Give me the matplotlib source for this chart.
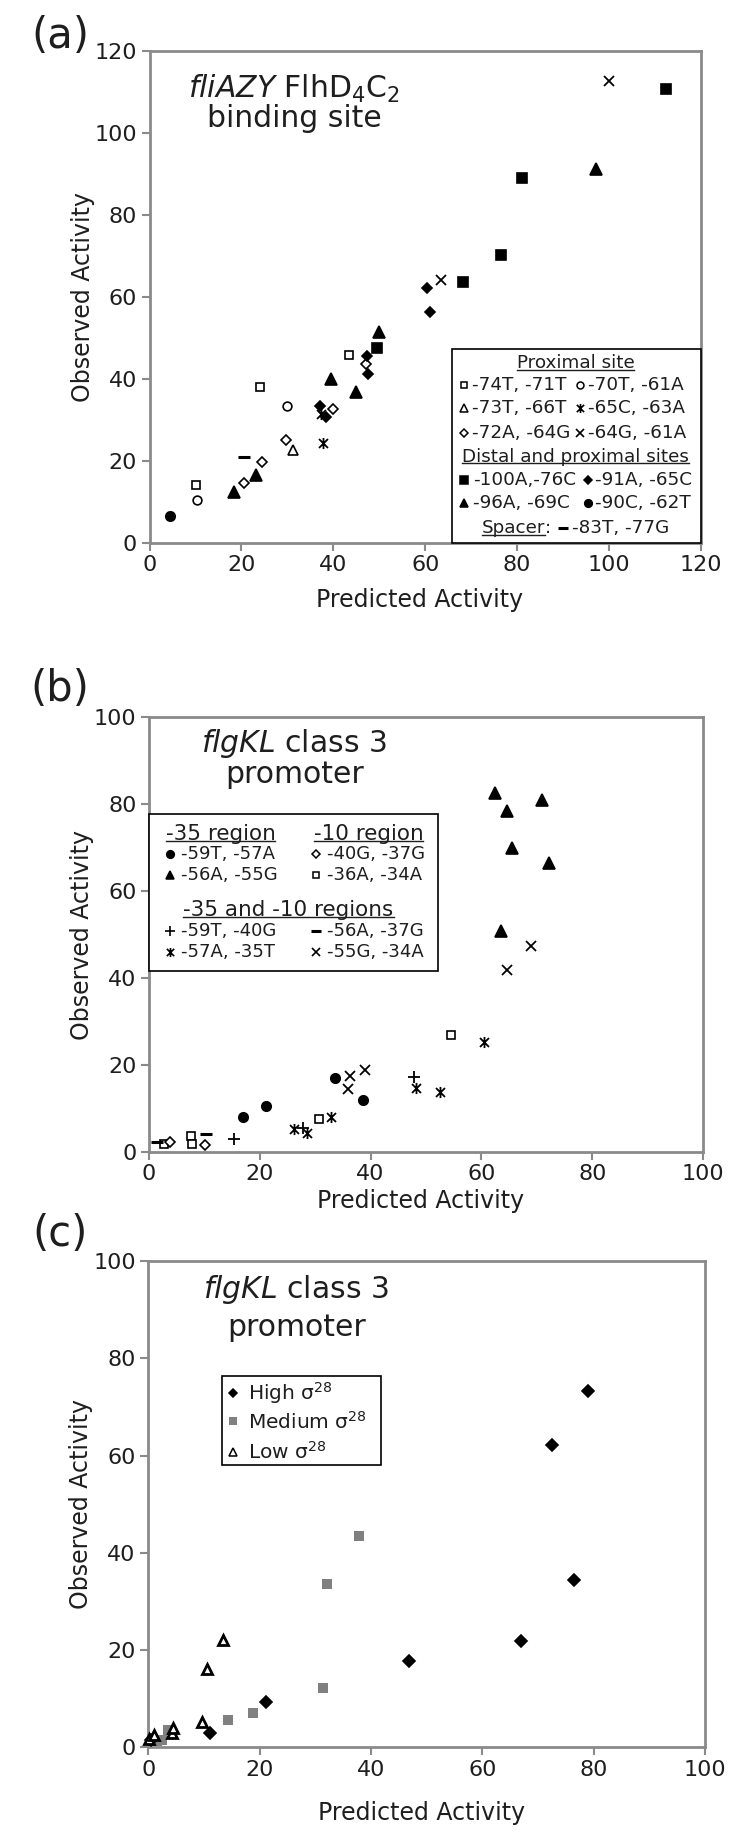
import numpy as np
import matplotlib
matplotlib.use('Agg')
import matplotlib.pyplot as plt
from matplotlib.path import Path
from matplotlib.lines import Line2D
from matplotlib.patches import Rectangle

plt.rcParams['font.family'] = ['DejaVu Sans']
plt.rcParams['mathtext.fontset'] = 'dejavusans'

TXT = '#1e1e1e'
SPINE = '#8a8a8a'
GRAY = '#808080'

# ---------------- data: panel (a) ----------------
a_sq_open_x = [10.2, 24.1, 43.5]
a_sq_open_y = [14.2, 37.9, 45.8]
a_circ_open_x = [10.3, 29.9]
a_circ_open_y = [10.5, 33.3]
a_tri_open_x = [31.2]
a_tri_open_y = [22.6]
a_star_x = [37.8, 37.4]
a_star_y = [24.3, 31.5]
a_dia_open_x = [20.5, 24.4, 29.8, 40.0, 47.0]
a_dia_open_y = [14.6, 19.7, 25.0, 32.6, 43.5]
a_x_x = [63.4, 100.0]
a_x_y = [64.2, 112.7]
a_sq_fill_x = [49.4, 68.3, 76.4, 81.1, 112.4]
a_sq_fill_y = [47.5, 63.6, 70.1, 88.9, 110.8]
a_dia_fill_x = [37.1, 38.3, 47.3, 47.6, 60.4, 61.0]
a_dia_fill_y = [33.3, 30.6, 45.5, 41.1, 62.1, 56.4]
a_tri_fill_x = [18.3, 23.2, 39.6, 45.0, 50.0, 97.1]
a_tri_fill_y = [12.4, 16.6, 40.0, 36.7, 51.5, 91.3]
a_circ_fill_x = [4.5]
a_circ_fill_y = [6.6]
a_dash_x = [20.5]
a_dash_y = [20.8]

# ---------------- data: panel (b) ----------------
b_circ_fill_x = [16.9, 21.2, 33.5, 38.7]
b_circ_fill_y = [8.0, 10.5, 16.9, 12.0]
b_tri_fill_x = [62.5, 64.6, 71.0, 65.6, 72.2, 63.5]
b_tri_fill_y = [82.5, 78.3, 80.9, 69.8, 66.5, 50.8]
b_dia_open_x = [3.8, 10.1]
b_dia_open_y = [2.2, 1.7]
b_sq_open_x = [2.7, 7.6, 7.7, 30.6, 54.5]
b_sq_open_y = [1.8, 3.7, 1.9, 7.7, 26.8]
b_plus_x = [15.4, 27.8, 47.9]
b_plus_y = [2.9, 5.6, 17.2]
b_dash_x = [1.4, 10.3]
b_dash_y = [2.3, 4.2]
b_star_x = [26.2, 28.5, 32.8, 48.2, 52.5, 60.5]
b_star_y = [5.2, 4.3, 8.0, 14.7, 13.9, 25.3]
b_x_x = [35.9, 36.3, 38.9, 64.6, 68.9]
b_x_y = [14.4, 17.5, 18.8, 41.9, 47.3]

# ---------------- data: panel (c) ----------------
c_high_x = [0.5, 11.0, 21.1, 46.8, 67.0, 72.5, 76.5, 78.9]
c_high_y = [1.5, 2.9, 9.3, 17.7, 21.8, 62.2, 34.5, 73.3]
c_med_x = [1.5, 2.4, 3.6, 14.3, 18.8, 31.4, 32.1, 37.9]
c_med_y = [1.3, 1.6, 3.6, 5.6, 7.0, 12.2, 33.5, 43.4]
c_low_x = [0.2, 1.0, 4.2, 4.5, 9.6, 10.6, 13.5]
c_low_y = [1.8, 2.6, 3.0, 4.0, 5.2, 16.0, 22.1]

STAR = Path([(-0.5, -0.5), (0.5, 0.5), (-0.5, 0.5), (0.5, -0.5), (0, -0.62), (0, 0.62)],
            [Path.MOVETO, Path.LINETO] * 3)

W, H = 750, 1846
fig = plt.figure(figsize=(W / 100, H / 100), dpi=100)


def add_axes(l, r, t, b):
    return fig.add_axes([l / W, 1 - b / H, (r - l) / W, (b - t) / H])


axA = add_axes(149.5, 701, 51, 542.7)
axB = add_axes(149, 703, 717, 1152)
axC = add_axes(148.3, 705, 1261, 1747.3)


def style(ax, lim, xlab_y, ylab_x=-0.121):
    ax.set_xlim(0, lim)
    ax.set_ylim(0, lim)
    ticks = np.arange(0, lim + 1, 20)
    ax.set_xticks(ticks)
    ax.set_yticks(ticks)
    for s in ax.spines.values():
        s.set_color(SPINE)
        s.set_linewidth(2.0)
    ax.tick_params(direction='out', length=6, width=1.5, color=SPINE,
                   labelsize=16, labelcolor=TXT, pad=3)
    ax.set_xlabel('Predicted Activity', fontsize=17, color=TXT)
    ax.set_ylabel('Observed Activity', fontsize=17, color=TXT)
    ax.xaxis.label.set_va('center')
    ax.yaxis.label.set_va('center')
    ax.xaxis.set_label_coords(0.49, xlab_y)
    ax.yaxis.set_label_coords(ylab_x, 0.5)


style(axA, 120, -0.1165)
style(axB, 100, -0.113)
style(axC, 100, -0.135)


def pts(ax, x, y, marker, ms, filled=True, mew=1.2, color='black', z=3):
    ax.plot(x, y, ls='none', marker=marker, ms=ms,
            mfc=color if filled else 'white', mec=color, mew=mew,
            clip_on=False, zorder=z)


def lmark(ax, x, y, marker, ms, filled=True, mew=1.1, color='black'):
    return ax.plot([x], [y], ls='none', marker=marker, ms=ms, transform=ax.transAxes,
                   mfc=color if filled else 'white', mec=color, mew=mew,
                   clip_on=False, zorder=6)[0]


UL = []


def ltext(ax, x, y, s, fs, ha='left', underline=False):
    t = ax.text(x, y, s, transform=ax.transAxes, fontsize=fs, ha=ha,
                va='center', color=TXT, zorder=7)
    if underline:
        UL.append((t, fs))
    return t


def box(ax, x0, y0, x1, y1):
    ax.add_patch(Rectangle((x0, y0), x1 - x0, y1 - y0, transform=ax.transAxes,
                           fc='white', ec='black', lw=1.2, zorder=5, clip_on=False))


# ---------------- panel (a) ----------------
pts(axA, a_sq_open_x, a_sq_open_y, 's', 6.3, False)
pts(axA, a_circ_open_x, a_circ_open_y, 'o', 6.3, False)
pts(axA, a_tri_open_x, a_tri_open_y, '^', 7.0, False)
pts(axA, a_dia_open_x, a_dia_open_y, 'D', 5.0, False)
pts(axA, a_star_x, a_star_y, STAR, 8, mew=1.3)
pts(axA, a_x_x, a_x_y, 'x', 7.5, mew=1.3)
pts(axA, a_sq_fill_x, a_sq_fill_y, 's', 7.0)
pts(axA, a_dia_fill_x, a_dia_fill_y, 'D', 5.3)
pts(axA, a_tri_fill_x, a_tri_fill_y, '^', 8.0)
pts(axA, a_circ_fill_x, a_circ_fill_y, 'o', 6.8)
pts(axA, a_dash_x, a_dash_y, '_', 8, mew=2.2)

axA.text(0.2625, 0.922, r'$\mathit{fliAZY}$ FlhD$_4$C$_2$', transform=axA.transAxes,
         fontsize=21.5, ha='center', va='center', color=TXT)
axA.text(0.2625, 0.862, 'binding site', transform=axA.transAxes,
         fontsize=21.5, ha='center', va='center', color=TXT)

box(axA, 0.548, 0.0, 1.0, 0.393)
fsA = 13.2
hx = 0.7724
ltext(axA, hx, 0.365, 'Proximal site', fsA, ha='center', underline=True)
rows = [0.3207, 0.2733, 0.2225]
c1m, c1t, c2m, c2t = 0.5703, 0.5842, 0.7806, 0.7957
lmark(axA, c1m, rows[0], 's', 5.0, False)
ltext(axA, c1t, rows[0], '-74T, -71T', fsA)
lmark(axA, c2m, rows[0], 'o', 5.0, False)
ltext(axA, c2t, rows[0], '-70T, -61A', fsA)
lmark(axA, c1m, rows[1], '^', 5.5, False)
ltext(axA, c1t, rows[1], '-73T, -66T', fsA)
lmark(axA, c2m, rows[1], STAR, 6.5, mew=1.2)
ltext(axA, c2t, rows[1], '-65C, -63A', fsA)
lmark(axA, c1m, rows[2], 'D', 4.0, False)
ltext(axA, c1t, rows[2], '-72A, -64G', fsA)
lmark(axA, c2m, rows[2], 'x', 6.0, mew=1.2)
ltext(axA, c2t, rows[2], '-64G, -61A', fsA)
ltext(axA, hx, 0.1749, 'Distal and proximal sites', fsA, ha='center', underline=True)
rows2 = [0.1276, 0.0801]
lmark(axA, c1m, rows2[0], 's', 5.5)
ltext(axA, 0.587, rows2[0], '-100A,-76C', fsA)
lmark(axA, 0.7957, rows2[0], 'D', 4.2)
ltext(axA, 0.8078, rows2[0], '-91A, -65C', fsA)
lmark(axA, c1m, rows2[1], '^', 6.0)
ltext(axA, 0.587, rows2[1], '-96A, -69C', fsA)
lmark(axA, 0.7957, rows2[1], 'o', 5.5)
ltext(axA, 0.8078, rows2[1], '-90C, -62T', fsA)
ySp = 0.0293
sp_t = ltext(axA, 0.6, ySp, 'Spacer', fsA, underline=True)
sp_c = ltext(axA, 0.7, ySp, ':', fsA)
sp_m = lmark(axA, 0.75, ySp, '_', 7, mew=2.2)
sp_v = ltext(axA, 0.8, ySp, '-83T, -77G', fsA)

# ---------------- panel (b) ----------------
pts(axB, b_sq_open_x, b_sq_open_y, 's', 6.3, False)
pts(axB, b_dia_open_x, b_dia_open_y, 'D', 5.0, False)
pts(axB, b_dash_x, b_dash_y, '_', 8, mew=2.2)
pts(axB, b_circ_fill_x, b_circ_fill_y, 'o', 6.8)
pts(axB, b_tri_fill_x, b_tri_fill_y, '^', 8.0)
pts(axB, b_plus_x, b_plus_y, '+', 8, mew=1.3)
pts(axB, b_star_x, b_star_y, STAR, 8, mew=1.3)
pts(axB, b_x_x, b_x_y, 'x', 7.5, mew=1.3)

axB.text(0.261, 0.940, r'$\mathit{flgKL}$ class 3', transform=axB.transAxes,
         fontsize=21.5, ha='center', va='center', color=TXT)
axB.text(0.263, 0.867, 'promoter', transform=axB.transAxes,
         fontsize=21.5, ha='center', va='center', color=TXT)

box(axB, 0.0, 0.417, 0.522, 0.778)
fsBh, fsB = 15.5, 13.0
ltext(axB, 0.129, 0.731, '-35 region', fsBh, ha='center', underline=True)
ltext(axB, 0.396, 0.731, '-10 region', fsBh, ha='center', underline=True)
b1m, b1t, b2m, b2t = 0.038, 0.058, 0.302, 0.321
lmark(axB, b1m, 0.686, 'o', 5.5)
ltext(axB, b1t, 0.686, '-59T, -57A', fsB)
lmark(axB, b2m, 0.686, 'D', 4.0, False)
ltext(axB, b2t, 0.686, '-40G, -37G', fsB)
lmark(axB, b1m, 0.637, '^', 6.0)
ltext(axB, b1t, 0.637, '-56A, -55G', fsB)
lmark(axB, b2m, 0.637, 's', 5.0, False)
ltext(axB, b2t, 0.637, '-36A, -34A', fsB)
ltext(axB, 0.252, 0.557, '-35 and -10 regions', fsBh, ha='center', underline=True)
lmark(axB, b1m, 0.508, '+', 6.5, mew=1.2)
ltext(axB, b1t, 0.508, '-59T, -40G', fsB)
lmark(axB, b2m, 0.508, '_', 7, mew=2.2)
ltext(axB, b2t, 0.508, '-56A, -37G', fsB)
lmark(axB, b1m, 0.460, STAR, 6.5, mew=1.2)
ltext(axB, b1t, 0.460, '-57A, -35T', fsB)
lmark(axB, b2m, 0.460, 'x', 6.0, mew=1.2)
ltext(axB, b2t, 0.460, '-55G, -34A', fsB)

# ---------------- panel (c) ----------------
pts(axC, c_med_x, c_med_y, 's', 7.0, color=GRAY, mew=0)
pts(axC, c_high_x, c_high_y, 'D', 6.0)
pts(axC, c_low_x, c_low_y, '^', 7.5, False, mew=2.0)

axC.text(0.265, 0.941, r'$\mathit{flgKL}$ class 3', transform=axC.transAxes,
         fontsize=21.5, ha='center', va='center', color=TXT)
axC.text(0.267, 0.864, 'promoter', transform=axC.transAxes,
         fontsize=21.5, ha='center', va='center', color=TXT)

box(axC, 0.132, 0.581, 0.418, 0.763)
fsC = 14.5
lmark(axC, 0.153, 0.729, 'D', 4.5)
ltext(axC, 0.179, 0.729, 'High σ$^{28}$', fsC)
lmark(axC, 0.153, 0.670, 's', 6.0, color=GRAY, mew=0)
ltext(axC, 0.179, 0.670, 'Medium σ$^{28}$', fsC)
lmark(axC, 0.153, 0.607, '^', 5.5, False, mew=1.1)
ltext(axC, 0.179, 0.607, 'Low σ$^{28}$', fsC)

# panel letters
fig.text(60 / W, 1 - 36 / H, '(a)', fontsize=30, ha='center', va='center', color=TXT)
fig.text(60 / W, 1 - 689 / H, '(b)', fontsize=30, ha='center', va='center', color=TXT)
fig.text(60 / W, 1 - 1234 / H, '(c)', fontsize=30, ha='center', va='center', color=TXT)

# lay out the "Spacer: - -83T, -77G" row, centred in the legend box
fig.canvas.draw()
renderer = fig.canvas.get_renderer()
ws = sp_t.get_window_extent(renderer).width
wc = sp_c.get_window_extent(renderer).width
wv = sp_v.get_window_extent(renderer).width
gap1, wm, gap2 = 6.0, 11.0, 4.0
total = ws + wc + gap1 + wm + gap2 + wv
cpx, _ = axA.transAxes.transform((hx, ySp))
start = cpx - total / 2
toax = axA.transAxes.inverted()
sp_t.set_x(toax.transform((start, 0))[0])
sp_c.set_x(toax.transform((start + ws, 0))[0])
sp_m.set_xdata([toax.transform((start + ws + wc + gap1 + wm / 2, 0))[0]])
sp_v.set_x(toax.transform((start + ws + wc + gap1 + wm + gap2, 0))[0])

# underlines
fig.canvas.draw()
inv = fig.transFigure.inverted()
for t, fs in UL:
    bb = t.get_window_extent(renderer)
    ypx = bb.y0 + 0.14 * fs * 100 / 72
    (x0, y0) = inv.transform((bb.x0, ypx))
    (x1, _) = inv.transform((bb.x1, ypx))
    fig.add_artist(Line2D([x0, x1], [y0, y0], transform=fig.transFigure,
                          color=TXT, lw=1.0, zorder=8))

fig.savefig('out.png', dpi=100)
